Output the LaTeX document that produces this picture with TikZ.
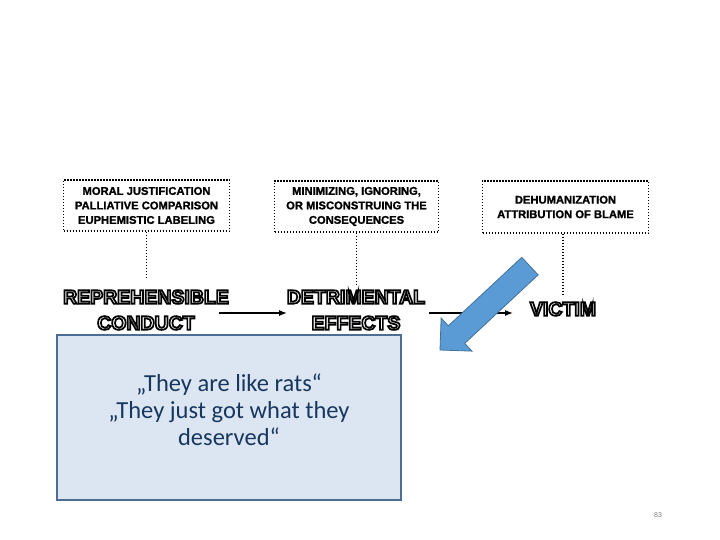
\documentclass[tikz,border=0pt]{standalone}
\usepackage{fontspec}
\setsansfont{Liberation Sans}
\newfontfamily\calibri{Carlito}
\newfontfamily\heavy{Liberation Sans Bold}[FakeBold=1.4]
\usetikzlibrary{arrows.meta}
\usetikzlibrary{positioning}

\definecolor{quotefill}{HTML}{DCE6F2}
\definecolor{quoteline}{HTML}{4F6D92}
\definecolor{quoteink}{HTML}{17375E}
\definecolor{pointerfill}{HTML}{5B9BD5}
\definecolor{pointerline}{HTML}{41719C}

% outlined (stroke only) letters
\newcommand{\hollow}[1]{\special{pdf:literal direct 1 Tr 1.7 w}#1\special{pdf:literal direct 0 Tr}}

\begin{document}
\begin{tikzpicture}[x=1pt, y=-1pt,
    mechanism/.style={draw=black, line width=1.1pt, dash pattern=on 1.1pt off 1.9pt,
      minimum width=166pt, minimum height=51pt, inner sep=0pt, align=center,
      font=\heavy\fontsize{11.2}{14.5}\selectfont},
    stage/.style={inner sep=0pt, font=\sffamily\bfseries\fontsize{19.5}{24}\selectfont},
    link/.style={line width=1.1pt, dash pattern=on 1.1pt off 1.9pt},
    flow/.style={-{Latex[length=8pt,width=6pt]}, line width=1.3pt}]

        % Page frame
        \useasboundingbox (0,0) rectangle (720,540);

        % Disengagement mechanisms (dotted boxes)
        \node[mechanism] (justify) at (146.5,205.5) {MORAL JUSTIFICATION\\PALLIATIVE COMPARISON\\EUPHEMISTIC LABELING};
        \node[mechanism, minimum width=164pt] (minimize) at (356.5,206.5) {MINIMIZING, IGNORING,\\OR MISCONSTRUING THE\\CONSEQUENCES};
        \node[mechanism, minimum height=52pt] (dehuman) at (565.5,207) {DEHUMANIZATION\\ATTRIBUTION OF BLAME};

        % Stages of the process
        \node[stage] (repre) at (146,297) {\hollow{REPREHENSIBLE}};
        \node[stage] (conduct) at (146,323) {\hollow{CONDUCT}};
        \node[stage] (detri) at (356,297) {\hollow{DETRIMENTAL}};
        \node[stage] (effects) at (356,323) {\hollow{EFFECTS}};
        \node[stage] (victim) at (563,309) {\hollow{VICTIM}};

        % Feet of the dotted links
        \coordinate (jfoot) at (justify.south |- 0,278);
        \coordinate (mfoot) at (minimize.south |- 0,284);
        \coordinate (dfoot) at (563,296);

        \draw[link] (justify.south) -- (jfoot);
        \draw[link] (minimize.south) -- (mfoot);
        \draw[link] (dehuman.south -| dfoot) -- (dfoot);

        % Arrows between the stages
        \coordinate (c1) at (219,313);
        \coordinate (c2) at (287,313);
        \coordinate (e1) at (429,313);
        \coordinate (e2) at (513,313);

        \draw[flow] (c1) -- (c2);
        \draw[flow] (e1) -- (e2);

        % Quote box
        \node[draw=quoteline, fill=quotefill, line width=1.6pt, minimum width=344pt, minimum height=165pt] (quotes) at (229,417.5) {};
        \node[align=center, text=quoteink, font=\calibri\fontsize{24.5}{27}\selectfont] (quotetext) at (229,410)
          {„They are like rats“\\„They just got what they\\deserved“};

        % Big pointer arrow
        \begin{scope}[shift={(440,350)}, rotate=43]
          \filldraw[fill=pointerfill, draw=pointerline, line width=0.8pt]
            (0,0) -- (22.6,22.6) -- (22.6,12) -- (123,12) -- (123,-12) -- (22.6,-12) -- (22.6,-22.6) -- cycle;
        \end{scope}

        % Page number
        \node[text=gray, font=\sffamily\fontsize{7}{8}\selectfont] (pagenum) at (658,515) {83};

      \end{tikzpicture}
\end{document}
